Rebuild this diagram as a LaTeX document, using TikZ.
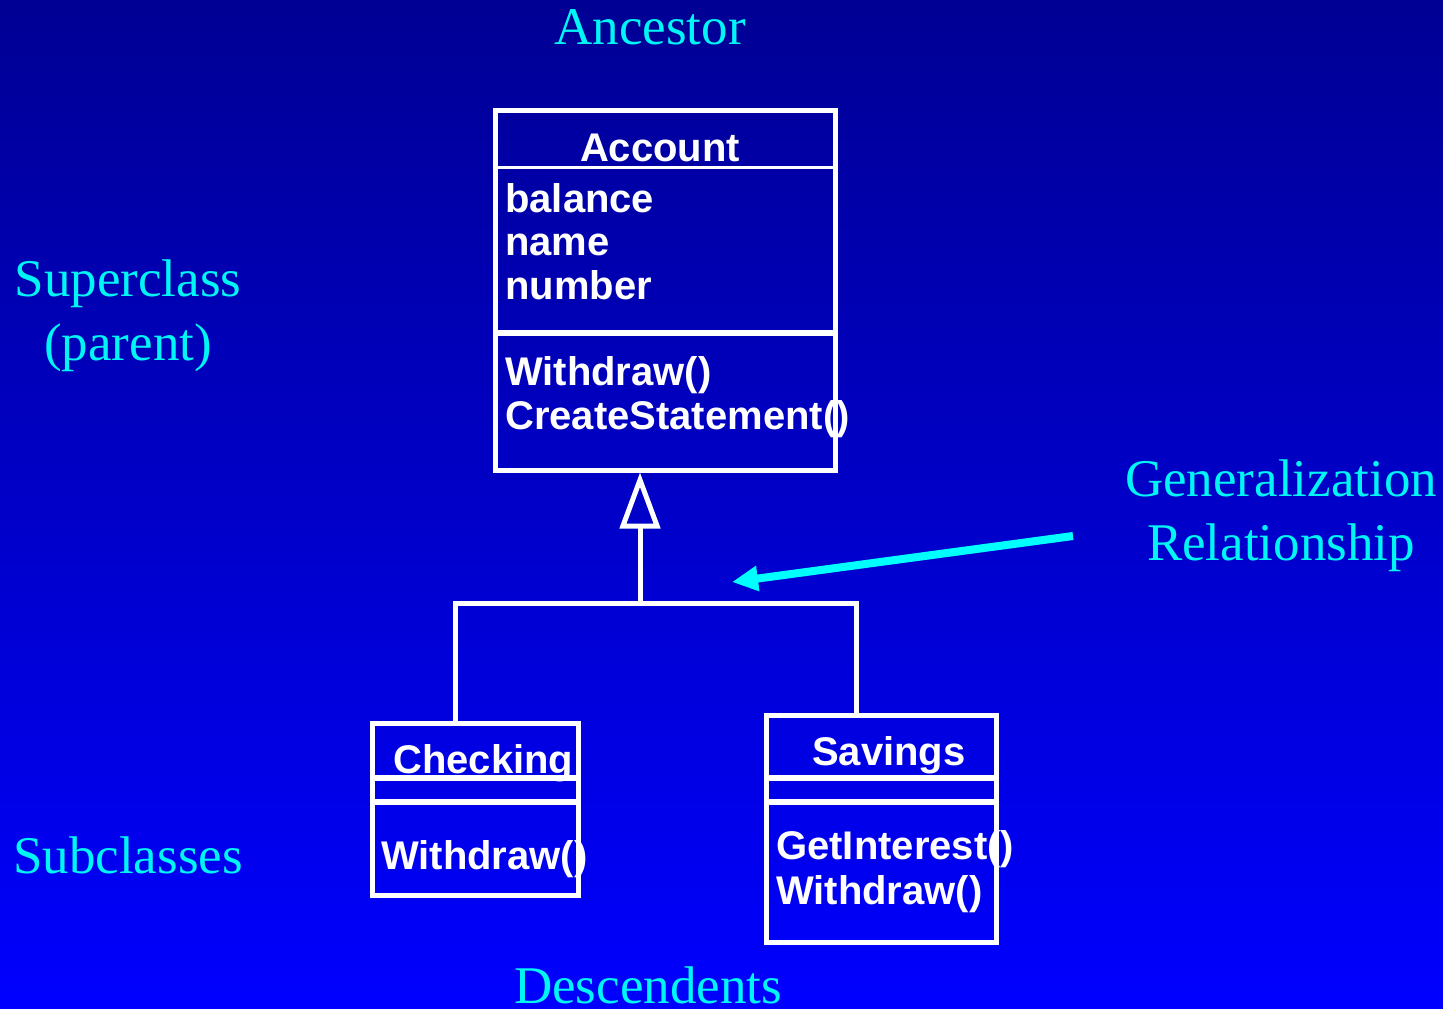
\documentclass[tikz,border=0pt]{standalone}
\usepackage{fontspec}
\setmainfont{Liberation Serif}
\newfontfamily\umlfont{Liberation Sans}
\usetikzlibrary{arrows.meta}
\definecolor{bgtop}{RGB}{0,0,96}
\definecolor{bgmid}{RGB}{0,0,200}
\definecolor{bgbot}{RGB}{0,0,255}
\definecolor{labelcyan}{RGB}{0,245,245}
\definecolor{arrowcyan}{RGB}{0,255,255}
\pgfdeclareverticalshading{slidebg}{100bp}{color(0bp)=(bgbot); color(25bp)=(bgbot); color(50bp)=(bgmid); color(100bp)=(bgtop)}
\tikzset{
  classbox/.style={draw=white, line width=5pt, rectangle, inner sep=0pt},
  divider/.style={draw=white, line width=#1},
  umltext/.style={text=white, inner sep=0pt, font=\umlfont\bfseries\fontsize{40}{44}\selectfont},
  lbl/.style={text=labelcyan, inner sep=0pt, font=\fontsize{53}{60}\selectfont},
  conn/.style={draw=white, line width=5pt},
  genarrow/.style={draw=arrowcyan, line width=8pt, -{Triangle[length=26pt,width=24pt]}}
}
\begin{document}
\begin{tikzpicture}[x=1pt,y=-1pt]
\useasboundingbox (0,0) rectangle (1443,1009);
\shade[shading=slidebg] (0,0) rectangle (1443,1009);

% Account class
\node[classbox, minimum width=340pt, minimum height=360pt] (account) at (665,290) {};
\draw[divider=3pt] (account.west |- 0,167) -- (account.east |- 0,167);
\draw[divider=6pt] (account.west |- 0,333) -- (account.east |- 0,333);
\node[umltext, anchor=base] (accname) at (660,161) {Account};
\node[umltext, anchor=base west] (attr1) at (505,212) {balance};
\node[umltext, anchor=base west] (attr2) at (505,255) {name};
\node[umltext, anchor=base west] (attr3) at (505,299) {number};
\node[umltext, anchor=base west] (op1) at (505,385) {Withdraw()};
\node[umltext, anchor=base west] (op2) at (505,429) {CreateStatement()};

% Checking class
\node[classbox, minimum width=206pt, minimum height=172pt] (checking) at (475,809) {};
\node[umltext, anchor=base west] (chkname) at (393,773) {Checking};
\draw[divider=6pt] (checking.west |- 0,778) -- (checking.east |- 0,778);
\draw[divider=6pt] (checking.west |- 0,802) -- (checking.east |- 0,802);
\node[umltext, anchor=base west] (chkop) at (381,869) {Withdraw()};

% Savings class
\node[classbox, minimum width=230pt, minimum height=227pt] (savings) at (881,828.5) {};
\node[umltext, anchor=base west] (savname) at (812,765) {Savings};
\draw[divider=6pt] (savings.west |- 0,778) -- (savings.east |- 0,778);
\draw[divider=6pt] (savings.west |- 0,802) -- (savings.east |- 0,802);
\node[umltext, anchor=base west] (savop1) at (776,859) {GetInterest()};
\node[umltext, anchor=base west] (savop2) at (776,904) {Withdraw()};

% Generalization tree
\coordinate (jl) at (455,603);
\coordinate (jm) at (640,603);
\coordinate (jr) at (856,603);
\draw[conn] (checking.north -| jl) -- (jl) -- (jr) -- (savings.north -| jr);
\draw[conn, -{Triangle[open, length=56pt, width=40pt]}] (jm) -- (account.south -| jm);

% Labels
\node[lbl, anchor=base] (ancestor) at (650,44) {Ancestor};
\node[lbl, anchor=base] (super1) at (128,296) {Superclass};
\node[lbl, anchor=base] (super2) at (128,360) {(parent)};
\node[lbl, anchor=base] (gen1) at (1281,496) {Generalization};
\node[lbl, anchor=base] (gen2) at (1281,560) {Relationship};
\node[lbl, anchor=base] (subcl) at (128,873) {Subclasses};
\node[lbl, anchor=base, text depth=0pt] (desc) at (648,1003) {Descendents};

% Cyan pointer arrow
\coordinate (gtail) at (1073,536);
\coordinate (ghead) at (732,582);
\draw[genarrow] (gtail) -- (ghead);
\end{tikzpicture}
\end{document}
